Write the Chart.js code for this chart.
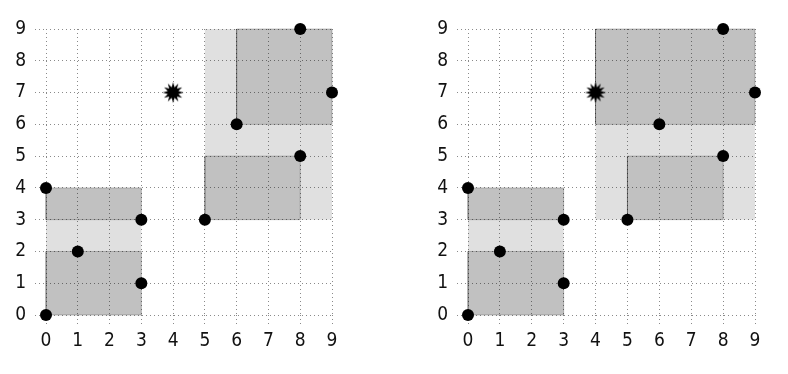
<!DOCTYPE html>
<html>
<head>
<meta charset="utf-8">
<script src="https://cdn.jsdelivr.net/npm/chart.js@4"></script>
<style>
  body { margin: 0; background: #fff; }
  .box { position: absolute; top: 0; width: 394px; height: 374px; }
</style>
</head>
<body>
<div class="box" style="left:0"><canvas id="before"></canvas></div>
<div class="box" style="left:394px"><canvas id="after"></canvas></div>
<script>
// points stored in the tree
const pointX = [0, 0, 1, 3, 3, 5, 8, 6, 8, 9];
const pointY = [0, 4, 2, 1, 3, 3, 5, 6, 9, 7];
// new point to insert
const newPoint = [4, 7];
const tickValues = [0, 1, 2, 3, 4, 5, 6, 7, 8, 9];

// boxes as [x0, x1, y0, y1]
const outerBefore = [[0, 3, 0, 4], [5, 9, 3, 9]];
const innerBefore = [[0, 3, 0, 2], [0, 3, 3, 4], [5, 8, 3, 5], [6, 9, 6, 9]];
const outerAfter = [[0, 3, 0, 4], [4, 9, 3, 9]];
const innerAfter = [[0, 3, 0, 2], [0, 3, 3, 4], [5, 8, 3, 5], [4, 9, 6, 9]];

Chart.defaults.font.family = "'Liberation Sans Narrow', 'DejaVu Sans Condensed', sans-serif";
Chart.defaults.font.size = 19;
Chart.defaults.color = '#111';

function makeStar() {
    const c = document.createElement('canvas');
    c.width = 24; c.height = 24;
    const g = c.getContext('2d');
    g.beginPath();
    for (let i = 0; i < 24; i++) {
        const r = i % 2 === 0 ? 10.5 : 5.5;
        const a = Math.PI * i / 12 - Math.PI / 2;
        const px = 12 + r * Math.cos(a), py = 12 + r * Math.sin(a);
        if (i === 0) g.moveTo(px, py); else g.lineTo(px, py);
    }
    g.closePath();
    g.fillStyle = '#000';
    g.fill();
    return c;
}
const star = makeStar();

function rectDataset(b, fillColor, edge, order) {
    return {
        data: [
            {x: b[0], y: b[2]}, {x: b[1], y: b[2]},
            {x: b[1], y: b[3]}, {x: b[0], y: b[3]}, {x: b[0], y: b[2]}
        ],
        showLine: true,
        fill: 'shape',
        backgroundColor: fillColor,
        borderColor: edge,
        borderWidth: edge ? 1 : 0,
        pointRadius: 0,
        tension: 0,
        order: order,
        clip: false
    };
}

function buildChart(id, outer, inner, padLeft, padRight) {
    const datasets = [];
    datasets.push({
        data: pointX.map((x, i) => ({x: x, y: pointY[i]})),
        pointRadius: 6,
        pointBackgroundColor: '#000',
        pointBorderWidth: 0,
        order: 0,
        clip: false
    });
    datasets.push({
        data: [{x: newPoint[0], y: newPoint[1]}],
        pointStyle: star,
        order: 1,
        clip: false
    });
    inner.forEach(b => datasets.push(rectDataset(b, 'rgba(0,0,0,0.143)', 'rgba(0,0,0,0.22)', 2)));
    outer.forEach(b => datasets.push(rectDataset(b, 'rgba(0,0,0,0.122)', null, 3)));

    const axis = {
        type: 'linear',
        min: 0,
        max: 9,
        afterBuildTicks: (s) => { s.ticks = tickValues.map(v => ({value: v})); },
        grid: {
            color: '#8a8a8a',
            lineWidth: 1,
            tickLength: 11,
            tickColor: '#8a8a8a',
            tickBorderDash: [1, 3]
        },
        border: { display: false, dash: [1, 3] }
    };

    return new Chart(document.getElementById(id), {
        type: 'scatter',
        data: { datasets: datasets },
        options: {
            responsive: true,
            maintainAspectRatio: false,
            animation: false,
            layout: { padding: { left: padLeft, right: padRight, top: 29, bottom: 0 } },
            plugins: { legend: { display: false }, tooltip: { enabled: false } },
            scales: {
                x: Object.assign({}, axis, {
                    ticks: { padding: 4, font: { size: 19 } },
                    afterFit: (s) => { s.height = 59; }
                }),
                y: Object.assign({}, axis, {
                    ticks: { padding: 9, font: { size: 19 } },
                    afterFit: (s) => { s.width = 46; }
                })
            }
        }
    });
}

buildChart('before', outerBefore, innerBefore, 0, 62);
buildChart('after', outerAfter, innerAfter, 28, 33);
</script>
</body>
</html>
